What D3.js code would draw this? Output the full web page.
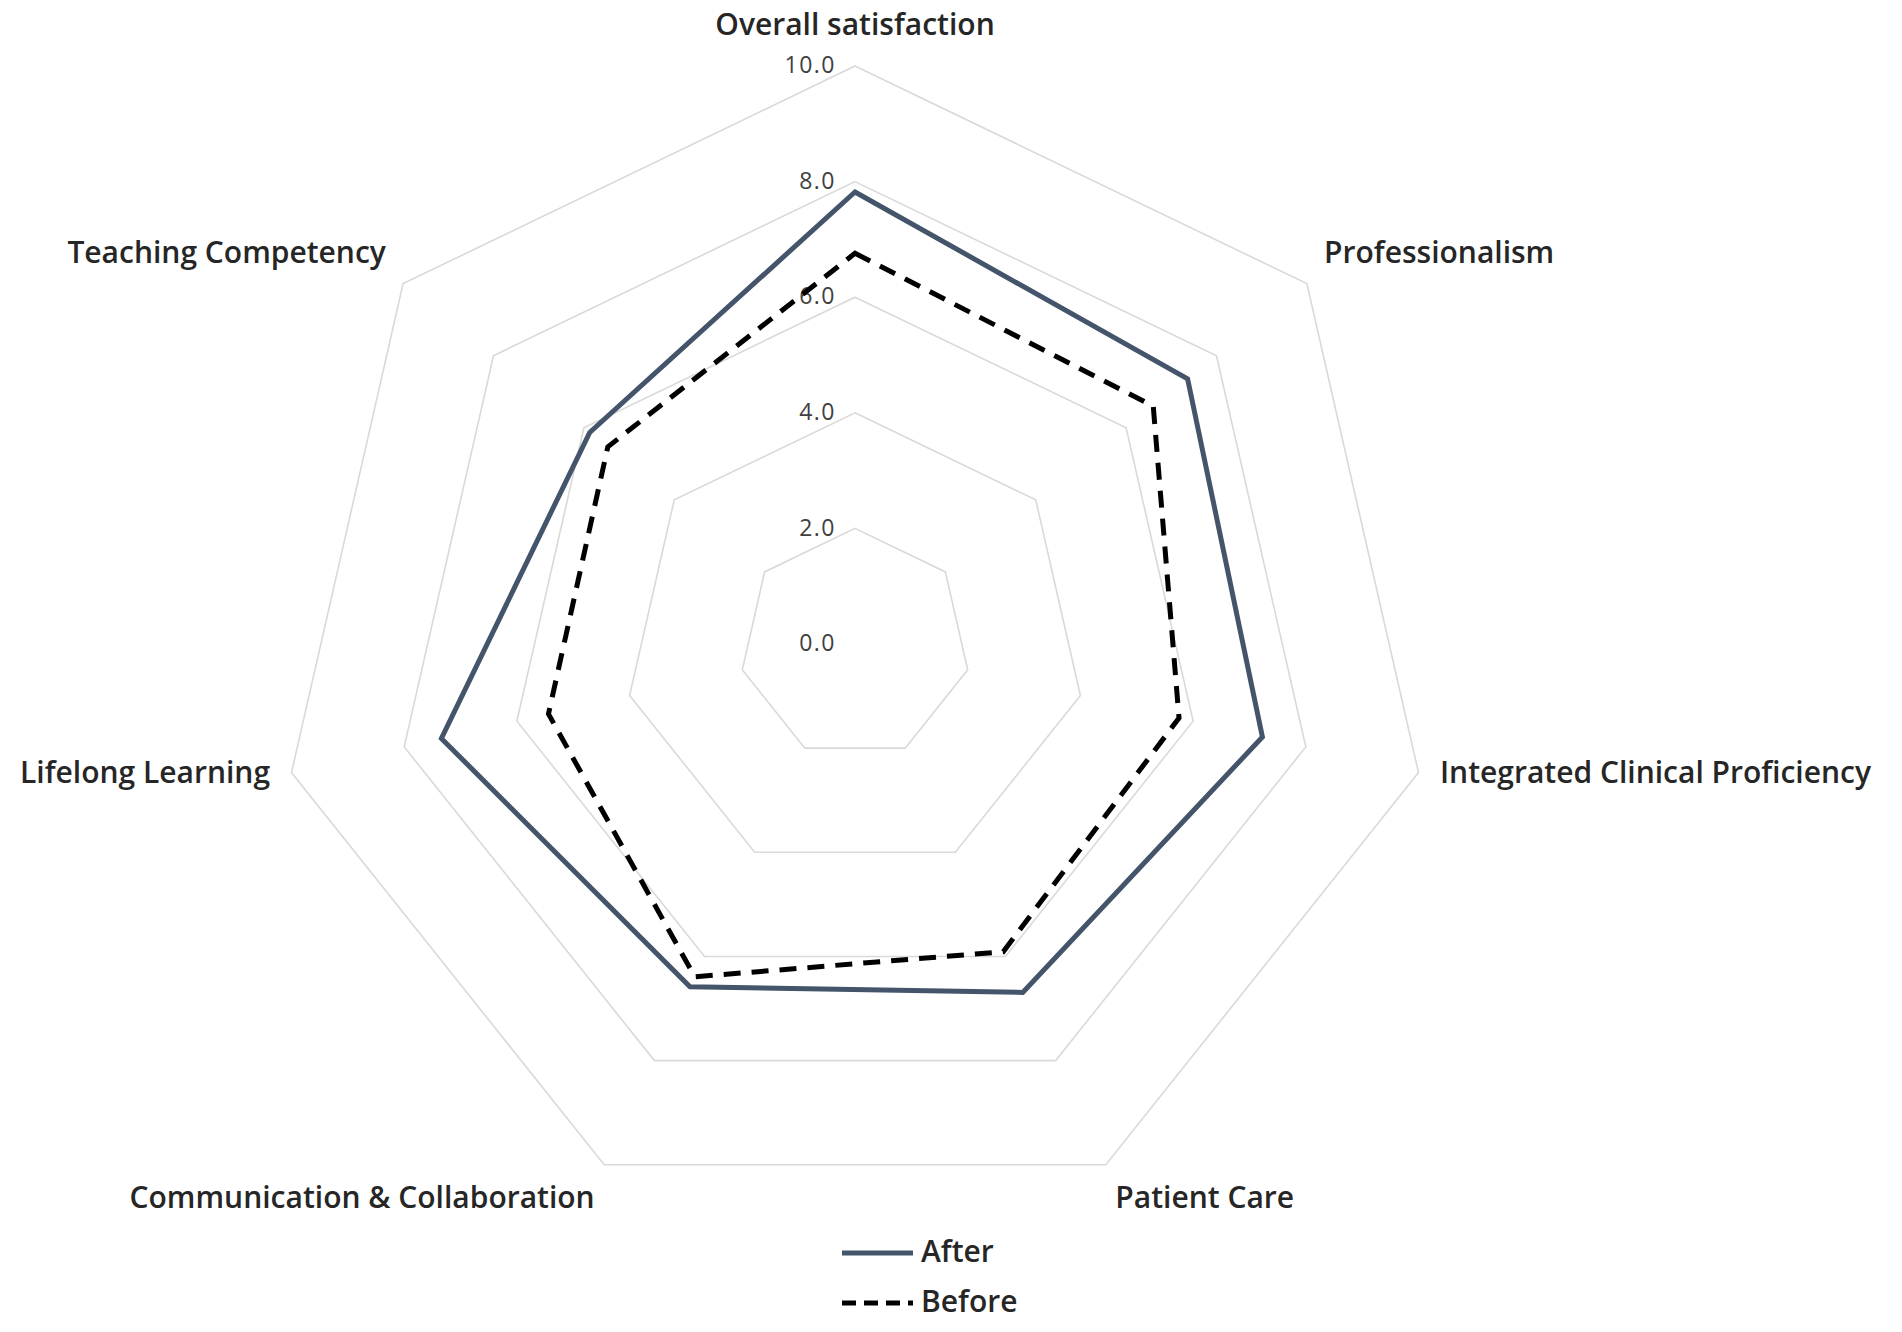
<!DOCTYPE html>
<html>
<head>
<meta charset="utf-8">
<script src="https://cdn.jsdelivr.net/npm/d3@7"></script>
<style>
  html, body { margin: 0; padding: 0; background: #fff; }
  svg { display: block; }
  text { font-family: "Open Sans", "Noto Sans", sans-serif; fill: #262626; }
</style>
</head>
<body>
<svg id="chart" width="1902" height="1332"></svg>
<script>
const categories = ["Overall satisfaction", "Professionalism", "Integrated Clinical Proficiency",
  "Patient Care", "Communication & Collaboration", "Lifelong Learning", "Teaching Competency"];
const afterValues  = [7.82, 7.36, 7.23, 6.69, 6.58, 7.34, 5.87];
const beforeValues = [6.76, 6.60, 5.75, 5.91, 6.39, 5.44, 5.47];
const tickValues = [0, 2, 4, 6, 8, 10];
const tickLabels = ["0.0", "2.0", "4.0", "6.0", "8.0", "10.0"];
const seriesNames = ["After", "Before"];

const svg = d3.select("#chart");
const cx = 855, cy = 644, R = 578;
const r = d3.scaleLinear().domain([0, 10]).range([0, R]);
const n = categories.length;
const angle = d3.scaleLinear().domain([0, n]).range([0, 2 * Math.PI]);
const pt = (i, v) => [cx + r(v) * Math.sin(angle(i)), cy - r(v) * Math.cos(angle(i))];

const g = svg.append("g");

// grid rings (no ring drawn at 0)
tickValues.filter(t => t > 0).forEach(t => {
  const pts = d3.range(n).map(i => pt(i, t));
  g.append("path")
    .attr("d", d3.line()(pts) + "Z")
    .attr("fill", "none").attr("stroke", "#d9d9d9").attr("stroke-width", 1.6);
});

// tick labels
tickValues.forEach((t, k) => {
  const [x, y] = pt(0, t);
  g.append("text").attr("x", x - 19).attr("y", y + 1)
    .attr("text-anchor", "end").attr("dominant-baseline", "middle")
    .attr("font-size", 23).style("letter-spacing", "1.5px")
    .style("fill", "#404040")
    .text(tickLabels[k]);
});

// category labels
categories.forEach((c, i) => {
  const a = angle(i);
  const [x, y] = pt(i, 10);
  const s = Math.sin(a), co = Math.cos(a);
  const anchor = Math.abs(s) < 0.01 ? "middle" : (s > 0 ? "start" : "end");
  g.append("text")
    .attr("x", x + s * 22)
    .attr("y", y - co * 40 - 8 * s * s + 1)
    .attr("text-anchor", anchor).attr("dominant-baseline", "middle")
    .attr("font-size", 30).attr("font-weight", 600)
    .text(c);
});

const line = d3.line();
const series = [
  { name: seriesNames[0], values: afterValues, color: "#44546a", dash: null },
  { name: seriesNames[1], values: beforeValues, color: "#000000", dash: "17,11" }
];
series.forEach(s => {
  const pts = s.values.map((v, i) => pt(i, v));
  g.append("path")
    .attr("d", line(pts) + "Z")
    .attr("fill", "none").attr("stroke", s.color).attr("stroke-width", 5)
    .attr("stroke-linejoin", "miter")
    .attr("stroke-dasharray", s.dash);
});

// legend
const leg = svg.append("g").attr("transform", "translate(842,1253)");
series.forEach((s, k) => {
  const y = k * 50;
  leg.append("line").attr("x1", 0).attr("x2", 71).attr("y1", y).attr("y2", y)
    .attr("stroke", s.color).attr("stroke-width", 5)
    .attr("stroke-dasharray", s.dash ? "14,8" : null);
  leg.append("text").attr("x", 79).attr("y", y + 1).attr("dominant-baseline", "middle")
    .attr("font-size", 30).attr("font-weight", 600).text(s.name);
});
</script>
</body>
</html>
